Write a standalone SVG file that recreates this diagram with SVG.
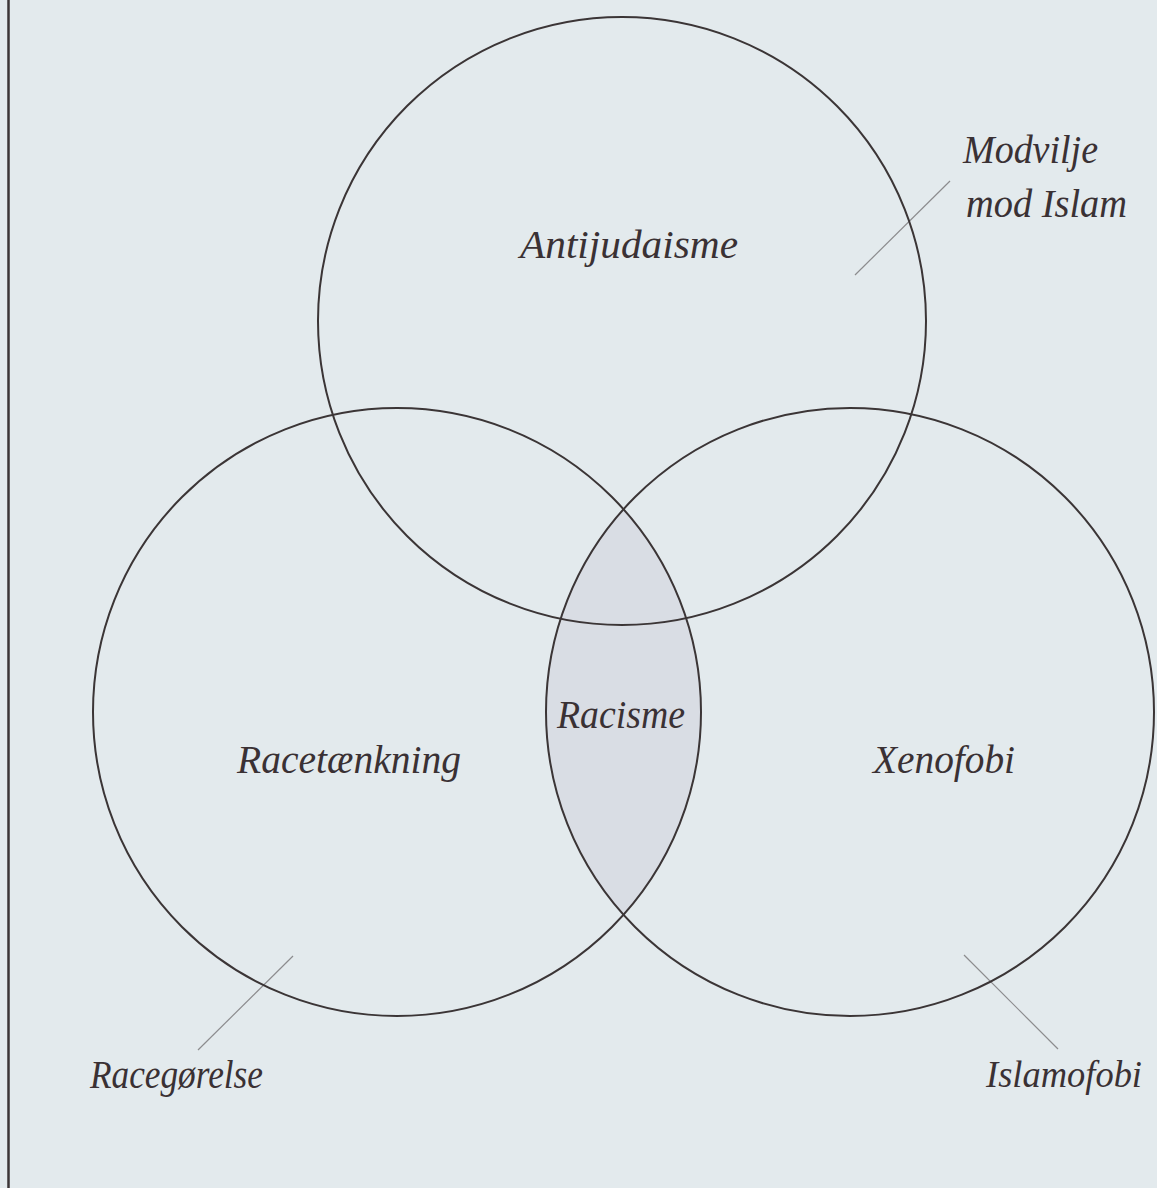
<svg xmlns="http://www.w3.org/2000/svg" width="1157" height="1188" viewBox="0 0 1157 1188">
<style>
.bg{fill:#e3eaed}
.circ{fill:none;stroke:#3b3536;stroke-width:2}
.lens{fill:#d9dde4}
.lead{stroke:#8c8c8e;stroke-width:1.2;fill:none}
.lbl{font-family:"Liberation Serif","DejaVu Serif",serif;font-style:italic;font-size:41px;fill:#3a3134}
</style>
<defs>
<clipPath id="clipL"><circle cx="397" cy="712" r="304"/></clipPath>
</defs>
<rect class="bg" x="0" y="0" width="1157" height="1188"/>
<line x1="8.5" y1="0" x2="8.5" y2="1188" stroke="#3b3536" stroke-width="2.5"/>
<g id="lens-racisme">
<circle class="lens" cx="850" cy="712" r="304" clip-path="url(#clipL)"/>
</g>
<g id="connectors">
<line class="lead" x1="855" y1="275" x2="950" y2="181"/>
<line class="lead" x1="198" y1="1050" x2="293" y2="956"/>
<line class="lead" x1="964" y1="955" x2="1058" y2="1049"/>
</g>
<g id="circle-antijudaisme">
<circle class="circ" cx="622" cy="321" r="304"/>
<text class="lbl" x="520" y="258" textLength="218" lengthAdjust="spacingAndGlyphs">Antijudaisme</text>
</g>
<g id="circle-racetaenkning">
<circle class="circ" cx="397" cy="712" r="304"/>
<text class="lbl" x="237" y="773" textLength="224" lengthAdjust="spacingAndGlyphs">Racetænkning</text>
</g>
<g id="circle-xenofobi">
<circle class="circ" cx="850" cy="712" r="304"/>
<text class="lbl" x="873" y="773" textLength="142" lengthAdjust="spacingAndGlyphs">Xenofobi</text>
</g>
<g id="racisme">
<text class="lbl" x="557" y="728" textLength="128" lengthAdjust="spacingAndGlyphs">Racisme</text>
</g>
<g id="label-modvilje">
<text class="lbl" x="963" y="163" textLength="135" lengthAdjust="spacingAndGlyphs">Modvilje</text>
<text class="lbl" x="966" y="217" textLength="161" lengthAdjust="spacingAndGlyphs">mod Islam</text>
</g>
<g id="label-racegorelse">
<text class="lbl" x="90" y="1088" textLength="173" lengthAdjust="spacingAndGlyphs">Racegørelse</text>
</g>
<g id="label-islamofobi">
<text class="lbl" x="986" y="1087" style="font-size:37px" textLength="156" lengthAdjust="spacingAndGlyphs">Islamofobi</text>
</g>
</svg>
